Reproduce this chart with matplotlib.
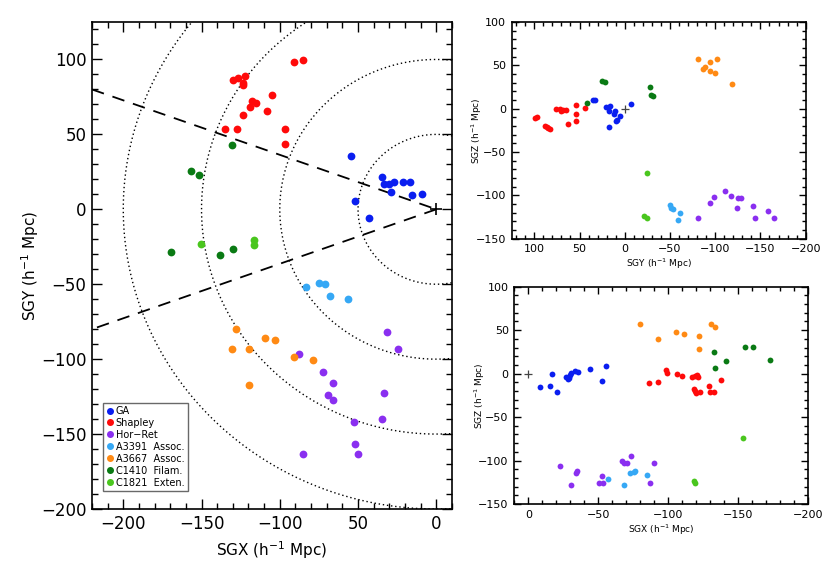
import matplotlib
matplotlib.use("Agg")
import matplotlib.pyplot as plt
import numpy as np
from matplotlib.ticker import MultipleLocator, FixedLocator

plt.rcParams['font.family'] = ['DejaVu Sans']

names = ["GA", "Shapley", "Hor\u2212Ret", "A3391  Assoc.", "A3667  Assoc.", "C1410  Filam.", "C1821  Exten."]
colors = ["#0a1ef0", "#ff0a0a", "#8a2ff0", "#36a8f5", "#ff8a14", "#0a7a14", "#4ac61e"]

# ---- Left panel: SGX vs SGY ----
xy_sgx = {
    "GA": [-54.5, -34.9, -33.2, -30, -27.2, -28.9, -21, -16.8, -15.8, -9.1, -51.9, -43.2],
    "Shapley": [-90.9, -85.1, -129.6, -126.4, -122.2, -123.7, -123.2, -104.9, -117.7, -115.1, -119, -108.1, -123.2, -135, -127.1, -96.4, -96.6],
    "Hor-Ret": [-31.7, -24.3, -87.9, -72.2, -66, -69.2, -66.2, -33.7, -52.8, -34.7, -51.9, -50.3, -85.4],
    "A3391": [-83.4, -74.9, -71.3, -67.9, -56.2],
    "A3667": [-127.9, -109.4, -103.2, -130.7, -119.4, -90.9, -78.5, -119.9],
    "C1410": [-130.5, -156.6, -151.8, -169.2, -137.9, -129.6],
    "C1821": [-150.3, -116.4, -116.6],
}
xy_sgy = {
    "GA": [35.6, 21.6, 16.7, 16.7, 18.5, 11.6, 18.2, 18, 9.5, 10.5, 5.8, -6],
    "Shapley": [98.5, 99.6, 86.6, 87.3, 88.9, 84.6, 83, 76, 72, 71.1, 68.3, 65.7, 62.8, 53.7, 53.7, 53.7, 43.9],
    "Hor-Ret": [-81.6, -93.1, -96.7, -108.8, -116, -124, -127.3, -122.6, -142, -140, -156.7, -163.2, -163.4],
    "A3391": [-52, -49, -50.1, -57.7, -60.1],
    "A3667": [-79.7, -86, -87.5, -93.3, -93.1, -98.6, -100.4, -117],
    "C1410": [42.8, 25.6, 22.7, -28.3, -30.5, -26.3],
    "C1821": [-23.4, -20.5, -24],
}

# ---- Top-right panel: SGY vs SGZ ----
yz_sgy = {
    "GA": [35.2, 33.3, 20.7, 15.9, 17.8, 17.8, 12.2, 10.4, 9.3, 8.1, 5.6, -6.7],
    "Shapley": [99.3, 97.4, 88.1, 86.3, 84.4, 82.6, 75.9, 71.5, 70.4, 67.8, 64.8, 53.7, 53.7, 53.7, 62.6, 43.7],
    "Hor-Ret": [-81.5, -93.7, -98.1, -110.4, -117, -124.1, -125.2, -128.9, -141.5, -143.7, -158.1, -164.8],
    "A3391": [-50, -51.5, -53.7, -61.1, -58.9],
    "A3667": [-81.1, -101.9, -94.4, -87, -88.9, -93.7, -100, -118.5],
    "C1410": [41.9, 24.8, 21.5, -27.4, -29.3, -31.5],
    "C1821": [-24.1, -21.1, -24.8],
}
yz_sgz = {
    "GA": [9.6, 10.4, 1.9, 3.1, -3.1, -21.2, -5.8, -3.1, -14.6, -13.5, -8.8, 5.4],
    "Shapley": [-10.4, -9.6, -20, -21.2, -21.9, -23.1, -0.4, -0.8, -2.7, -1.9, -1.5, 4.2, -6.5, -13.8, -18.1, 0.4],
    "Hor-Ret": [-125.8, -108.5, -102.3, -95, -100.8, -114.2, -103.1, -103.5, -112.3, -126.5, -117.7, -126.2],
    "A3391": [-111.5, -114.2, -116.2, -120.8, -128.5],
    "A3667": [56.9, 57.7, 53.8, 46.2, 48.1, 43.5, 41.2, 28.5],
    "C1410": [6.2, 31.5, 30.8, 25.4, 16.2, 14.6],
    "C1821": [-74.6, -123.5, -126.2],
}

# ---- Bottom-right panel: SGX vs SGZ ----
xz_sgx = {
    "GA": [-8.3, -15.5, -16.7, -20.7, -26.9, -28.1, -28.8, -29.8, -30.5, -33.3, -35.2, -44, -52.6, -55.2],
    "Shapley": [-86.4, -92.4, -98.1, -98.8, -106.4, -110, -116.9, -118.8, -120.5, -121.4, -118.6, -119, -119.8, -122.6, -129.3, -129.8, -132.4, -137.4],
    "Hor-Ret": [-22.9, -30.5, -34, -35, -50.5, -52.4, -53.3, -67.1, -68.6, -70.2, -73.3, -86.9, -89.5],
    "A3391": [-56.7, -68.6, -72.4, -75.5, -76, -84.8],
    "A3667": [-79.8, -92.4, -105.2, -111.2, -121.7, -121.9, -130.2, -133.1],
    "C1410": [-132.4, -133.1, -141, -155, -160.2, -172.9],
    "C1821": [-153.6, -118.6, -119],
}
xz_sgz = {
    "GA": [-15.7, -14.2, -0.8, -21.5, -3.4, -6.5, -4.6, -1.9, 0.4, 3.1, 1.9, 5.4, -8.8, 9.2],
    "Shapley": [-10.3, -10, 4.2, 0.4, -0.8, -2.3, -3.8, -2.7, -1.5, -3.4, -18, -19.9, -22.6, -20.7, -13.8, -20.7, -21.5, -6.9],
    "Hor-Ret": [-106.5, -128, -114.2, -111.9, -125.3, -117.6, -126.4, -101.1, -102.7, -103.1, -94.6, -126.1, -102.3],
    "A3391": [-120.7, -128.7, -114.9, -113, -111.5, -116.5],
    "A3667": [57.5, 40.2, 47.5, 46, 42.9, 28, 56.7, 53.6],
    "C1410": [25.3, 6.1, 14.6, 30.3, 31, 15.7],
    "C1821": [-74.3, -123.4, -126],
}

keys = ["GA", "Shapley", "Hor-Ret", "A3391", "A3667", "C1410", "C1821"]
circle_radii = [50, 100, 150, 200]
wedge_x = [-220, 0, -220]
wedge_y = [80, 0, -80]
main_xticks = [-200, -150, -100, -50, 0]
main_xticklabels = ["\u2212200", "\u2212150", "\u2212100", "50", "0"]
main_yticks = [100, 50, 0, -50, -100, -150, -200]

fig = plt.figure(figsize=(8.3, 5.64), dpi=100)


def style_axes(ax, major, minor, labelsize, majlen, minlen):
    for s in ax.spines.values():
        s.set_linewidth(1.2)
    ax.xaxis.set_minor_locator(MultipleLocator(minor))
    ax.yaxis.set_minor_locator(MultipleLocator(minor))
    ax.tick_params(which='both', direction='in', top=True, right=True,
                   labelsize=labelsize, width=1.0, pad=4)
    ax.tick_params(which='major', length=majlen)
    ax.tick_params(which='minor', length=minlen)


def fmt(v):
    return str(v).replace('-', '\u2212')


# Main panel
ax = fig.add_axes([0.1108, 0.0975, 0.4337, 0.8635])
ax.set_xlim(-220, 10)
ax.set_ylim(-200, 125)
th = np.linspace(0, 2 * np.pi, 720)
for r in circle_radii:
    ax.plot(r * np.cos(th), r * np.sin(th), color='black', lw=1.0, ls=(0, (1, 2)))
ax.plot(wedge_x[:2], wedge_y[:2], color='black', lw=1.3, ls=(0, (7, 5)))
ax.plot(wedge_x[1:], wedge_y[1:], color='black', lw=1.3, ls=(0, (7, 5)))
ax.plot([0], [0], marker='+', color='black', ms=8, mew=1.2)
handles = []
for k, nm, c in zip(keys, names, colors):
    h, = ax.plot(xy_sgx[k], xy_sgy[k], 'o', color=c, ms=5.6, mec='none', label=nm)
    handles.append(h)
ax.xaxis.set_major_locator(FixedLocator(main_xticks))
ax.set_xticklabels(main_xticklabels)
ax.set_yticks(main_yticks)
ax.set_yticklabels([fmt(v) for v in main_yticks])
style_axes(ax, 50, 10, 12, 7, 4)
ax.set_xlabel('SGX (h$^{\\mathregular{-1}}$ Mpc)', fontsize=11, labelpad=5)
ax.set_ylabel('SGY (h$^{\\mathregular{-1}}$ Mpc)', fontsize=11, labelpad=0)
leg = ax.legend(handles=handles, loc='lower left', bbox_to_anchor=(0.032, 0.037),
                fontsize=7, frameon=True, fancybox=False, edgecolor='#444444',
                handlelength=0.6, handletextpad=0.3, labelspacing=0.2,
                borderpad=0.35, markerscale=0.9, borderaxespad=0)
leg.get_frame().set_linewidth(1.0)

# Top-right panel: SGY vs SGZ
ax2 = fig.add_axes([0.6165, 0.5768, 0.3542, 0.3842])
ax2.set_xlim(125, -200)
ax2.set_ylim(-150, 100)
ax2.plot([0], [0], marker='+', color='#444444', ms=6, mew=0.9)
for k, c in zip(keys, colors):
    ax2.plot(yz_sgy[k], yz_sgz[k], 'o', color=c, ms=4.2, mec='none')
ax2.set_xticks([100, 50, 0, -50, -100, -150, -200])
ax2.set_xticklabels([fmt(v) for v in [100, 50, 0, -50, -100, -150, -200]])
ax2.set_yticks([100, 50, 0, -50, -100, -150])
ax2.set_yticklabels([fmt(v) for v in [100, 50, 0, -50, -100, -150]])
style_axes(ax2, 50, 10, 8, 5, 3)
ax2.set_xlabel('SGY (h$^{\\mathregular{-1}}$ Mpc)', fontsize=6.5, labelpad=2)
ax2.set_ylabel('SGZ (h$^{\\mathregular{-1}}$ Mpc)', fontsize=6.5, labelpad=-6)

# Bottom-right panel: SGX vs SGZ
ax3 = fig.add_axes([0.6196, 0.1064, 0.3542, 0.3853])
ax3.set_xlim(10, -200)
ax3.set_ylim(-150, 100)
ax3.plot([0], [0], marker='+', color='#444444', ms=6, mew=0.9)
for k, c in zip(keys, colors):
    ax3.plot(xz_sgx[k], xz_sgz[k], 'o', color=c, ms=4.2, mec='none')
ax3.set_xticks([0, -50, -100, -150, -200])
ax3.set_xticklabels([fmt(v) for v in [0, -50, -100, -150, -200]])
ax3.set_yticks([100, 50, 0, -50, -100, -150])
ax3.set_yticklabels([fmt(v) for v in [100, 50, 0, -50, -100, -150]])
style_axes(ax3, 50, 10, 8, 5, 3)
ax3.set_xlabel('SGX (h$^{\\mathregular{-1}}$ Mpc)', fontsize=6.5, labelpad=2)
ax3.set_ylabel('SGZ (h$^{\\mathregular{-1}}$ Mpc)', fontsize=6.5, labelpad=-6)

fig.savefig('out.png', dpi=100)
